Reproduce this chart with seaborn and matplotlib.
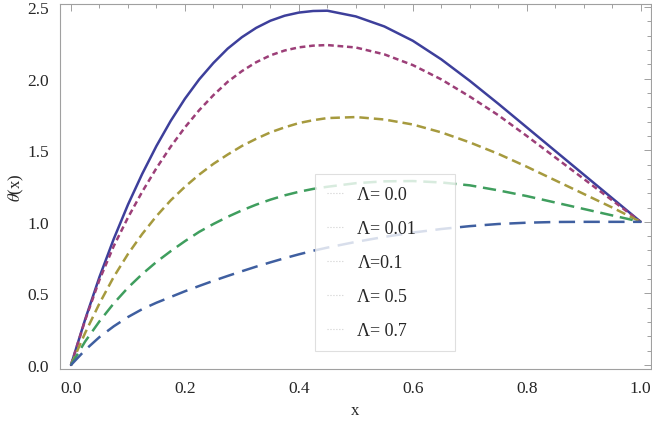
import pandas as pd
import numpy as np
import matplotlib
matplotlib.use('Agg')
import matplotlib.pyplot as plt
import seaborn as sns
from matplotlib.lines import Line2D
from matplotlib.ticker import MultipleLocator, FormatStrFormatter

x_vals = [0.0, 0.025, 0.05, 0.075, 0.1, 0.125, 0.15, 0.175, 0.2, 0.225, 0.25,
          0.275, 0.3, 0.325, 0.35, 0.375, 0.4, 0.425, 0.45,
          0.5, 0.55, 0.6, 0.65, 0.7, 0.75, 0.8, 0.85, 0.9, 0.95, 1.0]
theta_00 = [0.0, 0.32, 0.615, 0.88, 1.12, 1.335, 1.53, 1.705, 1.86, 1.995,
            2.11, 2.21, 2.29, 2.355, 2.405, 2.44, 2.462, 2.473, 2.475,
            2.435, 2.365, 2.265, 2.135, 1.985, 1.825, 1.66, 1.495, 1.33,
            1.165, 1.0]
theta_001 = [0.0, 0.315, 0.595, 0.83, 1.03, 1.21, 1.375, 1.525, 1.66, 1.78,
             1.885, 1.978, 2.053, 2.115, 2.163, 2.197, 2.219, 2.231, 2.235,
             2.218, 2.17, 2.095, 1.995, 1.875, 1.745, 1.60, 1.45, 1.30,
             1.15, 1.0]
theta_01 = [0.0, 0.225, 0.43, 0.615, 0.775, 0.915, 1.04, 1.15, 1.245, 1.33,
            1.405, 1.47, 1.53, 1.58, 1.625, 1.66, 1.69, 1.71, 1.725,
            1.732, 1.715, 1.68, 1.625, 1.555, 1.475, 1.385, 1.29, 1.195,
            1.10, 1.0]
theta_05 = [0.0, 0.165, 0.305, 0.43, 0.54, 0.635, 0.72, 0.795, 0.865, 0.93,
            0.985, 1.035, 1.08, 1.12, 1.155, 1.185, 1.21, 1.23, 1.245,
            1.27, 1.283, 1.285, 1.275, 1.255, 1.22, 1.18, 1.135, 1.09,
            1.045, 1.0]
theta_07 = [0.0, 0.105, 0.195, 0.27, 0.335, 0.39, 0.435, 0.475, 0.515, 0.552,
            0.588, 0.622, 0.655, 0.687, 0.717, 0.746, 0.773, 0.798, 0.82,
            0.86, 0.895, 0.925, 0.95, 0.97, 0.985, 0.994, 0.999, 1.0,
            1.0, 1.0]
legend_labels = ['Λ= 0.0', 'Λ= 0.01', 'Λ=0.1', 'Λ= 0.5', 'Λ= 0.7']

series = [theta_00, theta_001, theta_01, theta_05, theta_07]
colors = ['#3d3f9b', '#9c3f78', '#a69a3e', '#3f9e5e', '#3f5fa0']
dash_styles = [None, (2.3, 1.5), (3.8, 2.0), (5.3, 2.7), (6.5, 3.4)]

sns.set_style('white')
plt.rcParams['font.family'] = ['Liberation Serif', 'DejaVu Serif']
plt.rcParams['mathtext.fontset'] = 'stix'

fig = plt.figure(figsize=(6.52, 4.27), dpi=100)
ax = fig.add_axes([0.092, 0.1335, 0.906, 0.8545])

for y, c, d in zip(series, colors, dash_styles):
    sns.lineplot(x=x_vals, y=y, ax=ax, color=c, linewidth=1.8)
    if d is not None:
        ax.lines[-1].set_dashes(d)

ax.set_xlim(-0.0193, 1.0175)
ax.set_ylim(-0.028, 2.521)

ax.xaxis.set_major_locator(MultipleLocator(0.2))
ax.xaxis.set_minor_locator(MultipleLocator(0.05))
ax.yaxis.set_major_locator(MultipleLocator(0.5))
ax.yaxis.set_minor_locator(MultipleLocator(0.1))
ax.xaxis.set_major_formatter(FormatStrFormatter('%.1f'))
ax.yaxis.set_major_formatter(FormatStrFormatter('%.1f'))

# Рамка в стиле Mathematica
for s in ax.spines.values():
    s.set_color('#a0a0a0')
    s.set_linewidth(0.8)
ax.tick_params(which='both', direction='in', top=True, right=True,
               color='#a0a0a0', width=0.7, labelsize=12.5, pad=8)
ax.tick_params(which='major', length=5)
ax.tick_params(which='minor', length=3)

ax.set_xlabel('x', fontsize=12, labelpad=4)
ax.set_ylabel(r'$\theta$(x)', fontsize=12, labelpad=1)

handles = [Line2D([0], [0], color='#d0d0d0', linestyle=':', linewidth=0.8)
           for _ in legend_labels]
leg = ax.legend(handles, legend_labels, loc='lower left',
                bbox_to_anchor=(0.431, 0.049, 0.237, 0.485), mode='expand',
                borderaxespad=0, fontsize=13, frameon=True, fancybox=False,
                labelspacing=0.94, handlelength=0.9, handletextpad=0.8,
                borderpad=0.67)
leg.get_frame().set_edgecolor('#d8d8d8')
leg.get_frame().set_linewidth(0.8)

plt.savefig('out.png', dpi=100)
plt.close()
